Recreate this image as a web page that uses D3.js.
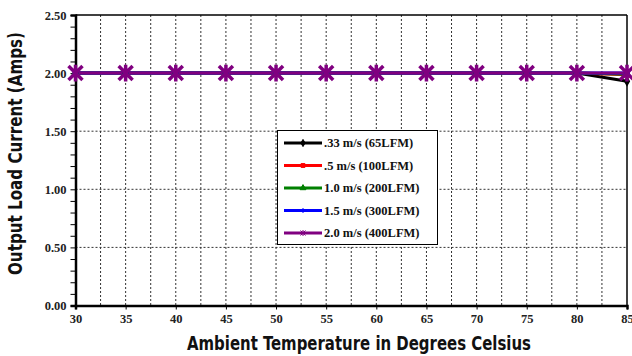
<!DOCTYPE html>
<html><head><meta charset="utf-8">
<script src="https://cdn.jsdelivr.net/npm/d3@7"></script>
<style>body{margin:0;background:#fff}svg{display:block}</style>
</head><body><svg id="c" width="632" height="356"></svg>
<script>
const temps = [30,35,40,45,50,55,60,65,70,75,80,85];
const s033 = [2.00,2.00,2.00,2.00,2.00,2.00,2.00,2.00,2.00,2.00,2.00,1.93];
const s05  = [2.00,2.00,2.00,2.00,2.00,2.00,2.00,2.00,2.00,2.00,2.00,1.985];
const s10  = [2.00,2.00,2.00,2.00,2.00,2.00,2.00,2.00,2.00,2.00,2.00,1.99];
const s15  = [2.00,2.00,2.00,2.00,2.00,2.00,2.00,2.00,2.00,2.00,2.00,2.00];
const s20  = [2.00,2.00,2.00,2.00,2.00,2.00,2.00,2.00,2.00,2.00,2.00,2.00];
const seriesNames = [".33 m/s (65LFM)", ".5 m/s (100LFM)", "1.0 m/s (200LFM)", "1.5 m/s (300LFM)", "2.0 m/s (400LFM)"];
const seriesColors = ["#000000", "#ff0000", "#008000", "#0000ff", "#800080"];
const seriesMarkers = ["diamond", "square", "triangle", "plus", "star"];
const yTicks = [0, 0.5, 1.0, 1.5, 2.0, 2.5];
const xTitle = "Ambient Temperature in Degrees Celsius";
const yTitle = "Output Load Current (Amps)";

const series = [s033, s05, s10, s15, s20];
const svg = d3.select("#c");
const L = 75.5, R = 627, T = 15, B = 305.5;
const x = d3.scaleLinear().domain([30, 85]).range([L, R]);
const y = d3.scaleLinear().domain([0, 2.5]).range([B, T]);
const serif = "'Liberation Serif','Times New Roman',serif";
const cond = "'Liberation Sans Narrow','DejaVu Sans Condensed','Arial Narrow',sans-serif";

// grid
const g = svg.append("g");
d3.range(32.5, 85, 2.5).forEach(v => {
  g.append("line").attr("x1", x(v)).attr("x2", x(v)).attr("y1", T).attr("y2", B)
    .attr("stroke", "#333").attr("stroke-width", 1).attr("stroke-dasharray", "2,2");
});
[0.5, 1.0, 1.5, 2.0].forEach(v => {
  g.append("line").attr("x1", L).attr("x2", R).attr("y1", y(v)).attr("y2", y(v))
    .attr("stroke", "#333").attr("stroke-width", 1).attr("stroke-dasharray", "2,2");
});
// frame
svg.append("line").attr("x1", L).attr("x2", R).attr("y1", T).attr("y2", T).attr("stroke", "#000").attr("stroke-width", 1.5);
svg.append("line").attr("x1", R).attr("x2", R).attr("y1", T).attr("y2", B).attr("stroke", "#000").attr("stroke-width", 1.5);

// axes
const yAxis = d3.axisLeft(y).tickValues(d3.range(0, 2.51, 0.1)).tickSize(5)
  .tickFormat(d => { const r = Math.round(d * 10); return r % 5 === 0 ? d3.format(".2f")(d) : ""; });
const ya = svg.append("g").attr("transform", `translate(${L},0)`).call(yAxis);
ya.select(".domain").attr("stroke-width", 2.5);
ya.selectAll("text").attr("font-family", serif).attr("font-weight", "bold").attr("font-size", 12.5).attr("x", -9).attr("fill", "#222");
const xAxis = d3.axisBottom(x).tickValues(temps).tickSize(4).tickFormat(d3.format("d"));
const xa = svg.append("g").attr("transform", `translate(0,${B})`).call(xAxis);
xa.select(".domain").attr("stroke-width", 2.5);
xa.selectAll("text").attr("font-family", serif).attr("font-weight", "bold").attr("font-size", 12.5).attr("y", 9).attr("fill", "#222");

// lines
const line = d3.line().x((d, i) => x(temps[i])).y(d => y(d));
const markerPath = (type, s) => {
  if (type === "diamond") return d3.symbol(d3.symbolDiamond, s * 6)();
  if (type === "square") return d3.symbol(d3.symbolSquare, s * 6)();
  if (type === "triangle") return d3.symbol(d3.symbolTriangle, s * 6)();
  if (type === "plus") return `M${-s},0L${s},0M0,${-s}L0,${s}`;
  const a = s * 1.0;
  return `M${-a},${-a}L${a},${a}M${-a},${a}L${a},${-a}M0,${-a * 1.2}L0,${a * 1.2}`;
};
series.forEach((vals, k) => {
  svg.append("path").datum(vals).attr("d", line).attr("fill", "none")
    .attr("stroke", seriesColors[k]).attr("stroke-width", 3);
});
series.forEach((vals, k) => {
  const big = k === 4;
  svg.append("g").selectAll("path").data(vals).join("path")
    .attr("transform", (d, i) => `translate(${x(temps[i])},${y(d)})`)
    .attr("d", markerPath(seriesMarkers[k], big ? 7 : 3))
    .attr("fill", (seriesMarkers[k] === "plus" || seriesMarkers[k] === "star") ? "none" : seriesColors[k])
    .attr("stroke", seriesColors[k]).attr("stroke-width", big ? 3.5 : 1.5);
});

// legend
const lg = svg.append("g");
lg.append("rect").attr("x", 277.5).attr("y", 130.5).attr("width", 160).attr("height", 114)
  .attr("fill", "#fff").attr("stroke", "#000").attr("stroke-width", 1);
seriesNames.forEach((n, k) => {
  const yy = 143 + k * 22.5;
  lg.append("line").attr("x1", 284).attr("x2", 322).attr("y1", yy).attr("y2", yy)
    .attr("stroke", seriesColors[k]).attr("stroke-width", 3);
  lg.append("path").attr("transform", `translate(303,${yy})`).attr("d", markerPath(seriesMarkers[k], 2.5))
    .attr("fill", seriesColors[k]).attr("stroke", seriesColors[k]).attr("stroke-width", 1);
  lg.append("text").attr("x", 324).attr("y", yy + 4).text(n)
    .attr("font-family", serif).attr("font-weight", "bold").attr("font-size", 12.5).attr("fill", "#111");
});

// titles
svg.append("text").attr("x", 359).attr("y", 350).attr("text-anchor", "middle").text(xTitle)
  .attr("textLength", 344).attr("lengthAdjust", "spacingAndGlyphs")
  .attr("font-family", cond).attr("font-weight", "bold").attr("font-size", 19).attr("fill", "#111");
svg.append("text").attr("transform", "translate(22,153.5) rotate(-90)").attr("text-anchor", "middle").text(yTitle)
  .attr("textLength", 243).attr("lengthAdjust", "spacingAndGlyphs")
  .attr("font-family", cond).attr("font-weight", "bold").attr("font-size", 19).attr("fill", "#111");
</script></body></html>
